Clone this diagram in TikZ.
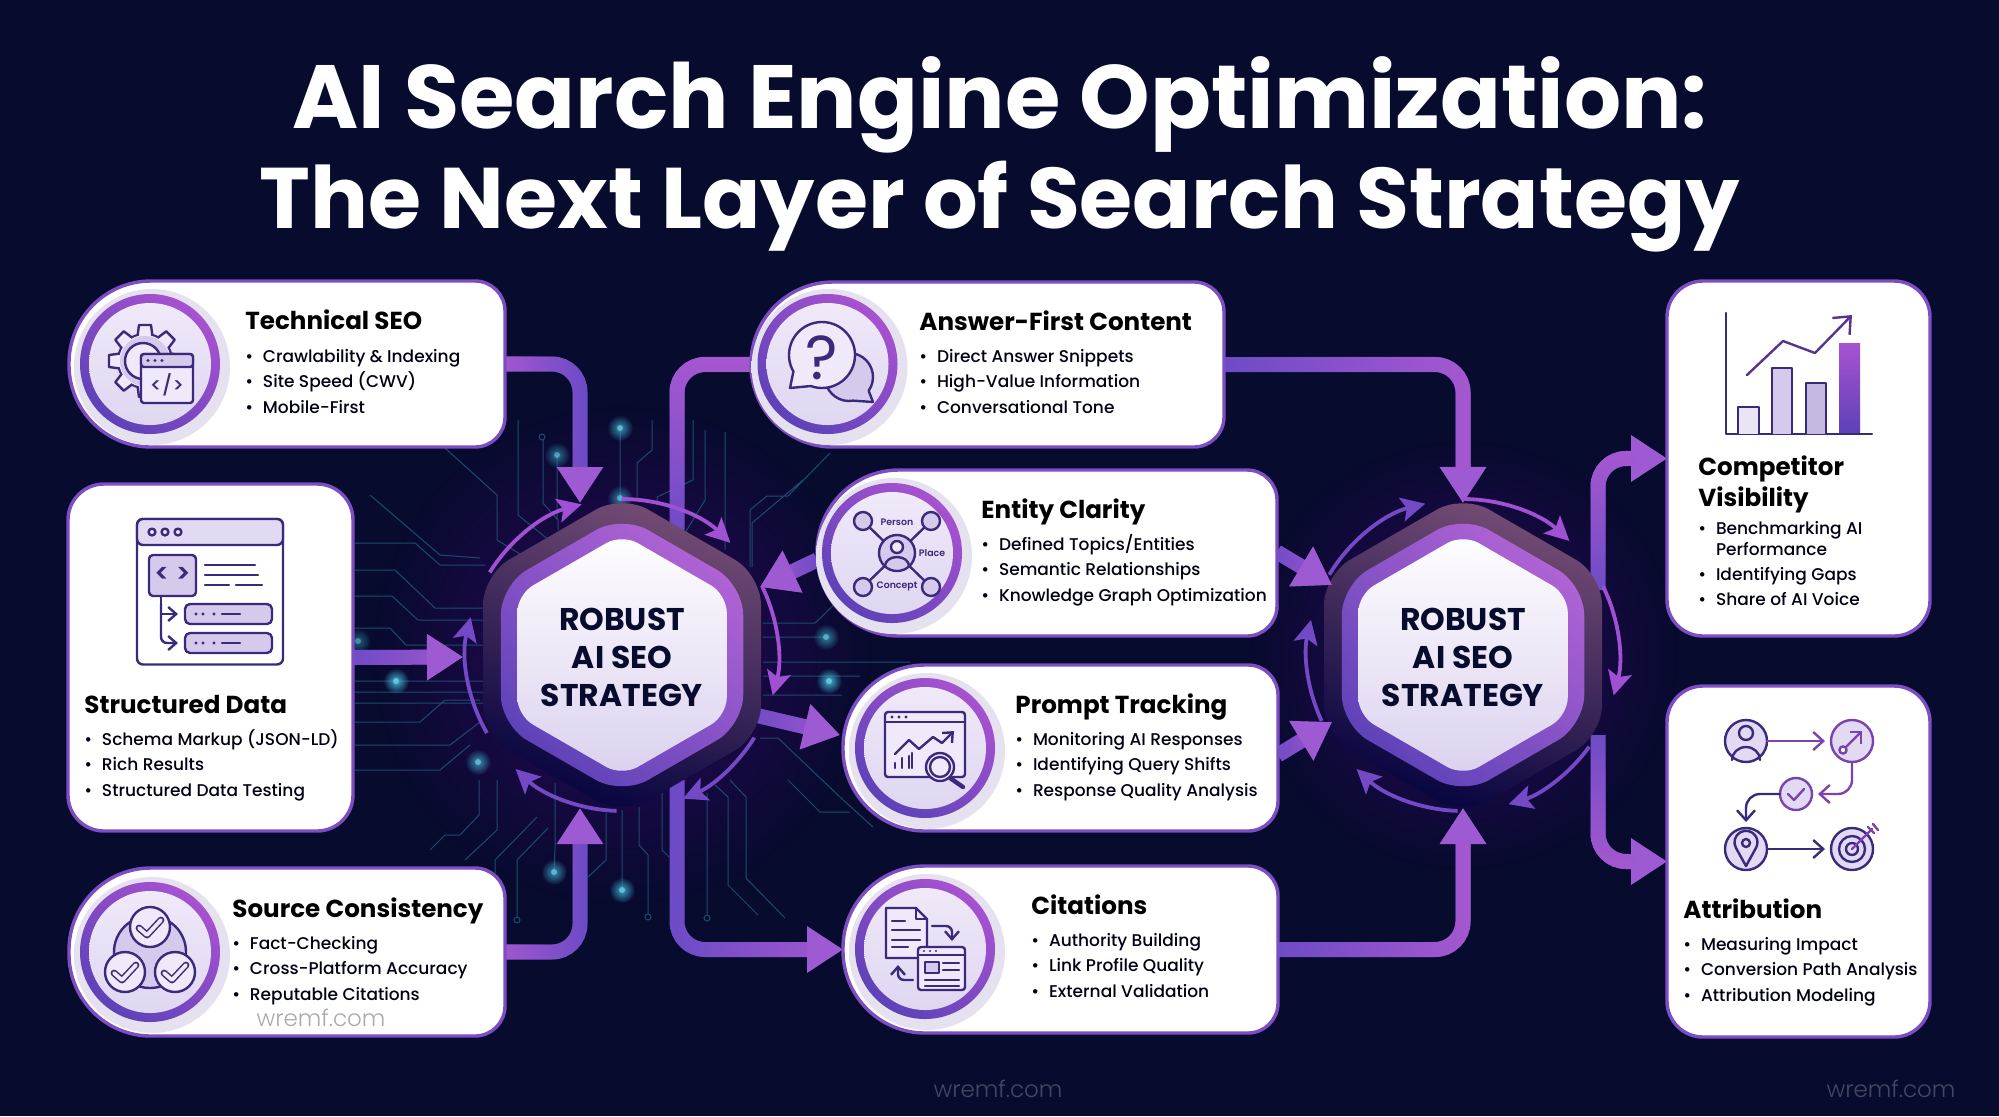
\documentclass[tikz,border=0pt]{standalone}
\usepackage{fontspec}
\setmainfont{Poppins}
\newfontfamily\medfont{Poppins Medium}
\newfontfamily\semifont{Poppins SemiBold}
\newfontfamily\boldfont{Poppins Bold}
\newfontfamily\markfont{Poppins Light}
\usetikzlibrary{arrows.meta,shapes.geometric,fadings}

\definecolor{pagebg}{HTML}{070B2E}
\definecolor{flowline}{HTML}{6C4BC6}
\definecolor{flowbright}{HTML}{A658D0}
\definecolor{flowtip}{HTML}{9E5AD2}
\definecolor{orbitpink}{HTML}{A050D2}
\definecolor{orbitblue}{HTML}{7449C6}
\definecolor{cardedge}{HTML}{7D4DC4}
\definecolor{iconink}{HTML}{3A2A7C}
\definecolor{iconsoft}{HTML}{D5C9EC}
\definecolor{iconpale}{HTML}{EFE9F9}
\definecolor{tracecol}{HTML}{1F4A70}
\definecolor{sparkcol}{HTML}{3FB4D2}
\definecolor{ringtop}{HTML}{A852D0}
\definecolor{ringlow}{HTML}{5D42B8}
\definecolor{shadowcol}{HTML}{E6E1EE}

\pgfdeclareradialshading{discshadow}{\pgfpointorigin}{color(0bp)=(shadowcol); color(43bp)=(shadowcol); color(50bp)=(white)}
\tikzfading[name=softdisc,inner color=transparent!0,outer color=transparent!100]
\tikzfading[name=growright,left color=transparent!100,right color=transparent!0]
\tikzfading[name=growleft,left color=transparent!0,right color=transparent!100]
\tikzfading[name=growup,bottom color=transparent!100,top color=transparent!0]
\tikzfading[name=growdown,bottom color=transparent!0,top color=transparent!100]

\tikzset{
  cardspot/.style={rectangle,inner sep=0pt,outer sep=0pt},
  cardline/.style={draw=cardedge,line width=1.7pt,fill=white},
  flow/.style={draw=flowline,line width=7.5pt,rounded corners=14pt},
  flowhead/.style={flow,-{Triangle[length=18pt,width=22pt,color=flowtip]}},
  toward/.style={postaction={draw=flowbright,path fading=#1}},
  orbit/.style={draw=#1,line width=1.9pt,-{Stealth[length=12pt,width=12pt,inset=2.5pt]}},
  trace/.style={draw=tracecol,line width=.5pt},
  hexbase/.style={regular polygon,regular polygon sides=6,shape border rotate=30,inner sep=0pt,outer sep=0pt},
  hexouter/.style={hexbase,minimum size=160.5pt,rounded corners=15pt,top color=#1,bottom color=#1!55!black!25!blue!30!black,shading angle=-20},
  hexmid/.style={hexbase,minimum size=140pt,rounded corners=15pt,top color=ringtop!90!white,bottom color=ringlow,shading angle=-40},
  hexinner/.style={hexbase,minimum size=121pt,rounded corners=9pt,top color=white!97!iconsoft,bottom color=iconsoft!85!white},
  hubtext/.style={font=\boldfont\fontsize{15.7}{19.2}\selectfont,align=center,text=pagebg,inner sep=0pt},
  ringdisc/.style={circle,inner sep=0pt,minimum size=70pt,top color=ringtop,bottom color=ringlow,shading angle=-40},
  coredisc/.style={circle,inner sep=0pt,minimum size=61pt,top color=iconpale,bottom color=iconsoft!75!white},
  cardtitle/.style={font=\boldfont\fontsize{12.3}{16}\selectfont,anchor=base west,inner sep=0pt,text=black},
  itemline/.style={font=\medfont\fontsize{8.5}{11}\selectfont,anchor=base west,inner sep=0pt,text=black!92!blue},
  iconline/.style={draw=iconink,line width=1.2pt,line join=round,line cap=round},
  iconlabel/.style={font=\semifont\fontsize{4.7}{5}\selectfont,text=iconink,inner sep=0pt},
  watermark/.style={font=\markfont\fontsize{11.5}{12}\selectfont,inner sep=0pt},
  headline/.style={font=\boldfont\fontsize{#1}{52}\selectfont,text=white,inner sep=0pt}
}

%Pill shaped card: round on the left, tight on the right
\newcommand{\pillshape}[1]{%
  \draw[cardline] ([xshift=41pt]#1.north west) -- ([xshift=-15pt]#1.north east)
    arc[start angle=90,end angle=0,radius=15pt] -- ([yshift=15pt]#1.south east)
    arc[start angle=0,end angle=-90,radius=15pt] -- ([xshift=41pt]#1.south west)
    arc[start angle=270,end angle=180,radius=41pt] -- ([yshift=-41pt]#1.north west)
    arc[start angle=180,end angle=90,radius=41pt] -- cycle;}
%Round badge of a card
\newcommand{\badge}[3]{%
  \shade[shading=discshadow] (#2+2,#3+3) circle[radius=78];
  \node[ringdisc] (#1) at (#2,#3) {};
  \node[coredisc] (#1core) at (#2,#3) {};}
%Bullets of a card
\newcommand{\itemrow}[5][25.6]{%
  \foreach \t [count=\i from 0] in {#5}
    \node[itemline] (#2-\i) at (#3,#4+\i*#1) {\makebox[8.8pt][l]{\textbullet}\t};}
%Outlined tick
\newcommand{\tick}[2]{%
  \draw[draw=iconink,line width=3.4pt,line cap=round,line join=round] (#1-11,#2+1) -- (#1-3,#2+8) -- (#1+11,#2-7);
  \draw[draw=iconpale,line width=1.9pt,line cap=round,line join=round] (#1-11,#2+1) -- (#1-3,#2+8) -- (#1+11,#2-7);}
%Glowing dot on the circuit
\newcommand{\spark}[3]{%
  \fill[sparkcol,path fading=softdisc,opacity=#3] (#1,#2) circle[radius=13];
  \fill[sparkcol!80!white,opacity=#3] (#1,#2) circle[radius=3];}

\begin{document}
\begin{tikzpicture}[x=0.5pt,y=-0.5pt]
\useasboundingbox (0,0) rectangle (1999,1116);
\fill[pagebg] (0,0) rectangle (1999,1116);

%Glow
\fill[violet!75!blue,path fading=softdisc,opacity=.42] (622,655) circle[radius=250];
\fill[violet!75!blue,path fading=softdisc,opacity=.42] (1463,655) circle[radius=215];

%Circuit
\draw[trace] (355,543) -- (415,543) -- (440,565) -- (485,565)
  (355,570) -- (395,570) -- (435,608) -- (485,608)
  (355,596) -- (392,596) -- (418,620) -- (485,620)
  (355,628) -- (390,628) -- (406,645) -- (485,645)
  (355,681) -- (485,681) (355,692) -- (485,692) (355,703) -- (485,703)
  (355,722) -- (420,722) -- (445,700) -- (480,700)
  (355,745) -- (450,745) -- (480,722)
  (355,770) -- (440,770) -- (470,745)
  (370,495) -- (440,555) -- (480,558)
  (445,448) -- (497,495) -- (497,540) -- (530,560)
  (518,420) -- (518,515) -- (555,545)
  (543,440) -- (543,503) -- (558,520) -- (558,530)
  (557,455) -- (557,520)
  (620,428) -- (620,498)
  (637,500) -- (637,463) -- (652,450) -- (652,420)
  (693,420) -- (693,480) -- (657,497) -- (657,505)
  (705,430) -- (705,500) -- (685,533)
  (725,432) -- (725,550)
  (830,453) -- (788,496) -- (767,496) -- (750,510) -- (750,567)
  (752,567) -- (752,523) -- (803,480)
  (763,623) -- (815,623) -- (860,580)
  (763,637) -- (830,637)
  (763,662) -- (910,662) (763,676) -- (860,676) (763,695) -- (842,695)
  (760,738) -- (778,738) -- (840,797) -- (873,827)
  (788,780) -- (820,812) -- (850,812)
  (479,780) -- (479,815) -- (460,835) -- (445,835) -- (430,850)
  (497,780) -- (497,830) -- (465,860)
  (548,828) -- (517,860) -- (517,917)
  (537,817) -- (495,860) -- (495,877)
  (555,783) -- (555,848) -- (554,872)
  (606,813) -- (606,860) -- (588,877)
  (622,810) -- (622,890)
  (639,807) -- (639,845) -- (648,855) -- (648,914)
  (662,793) -- (662,850) -- (669,857)
  (707,793) -- (707,915)
  (715,785) -- (728,797) -- (728,885) -- (758,915)
  (730,780) -- (746,797) -- (746,878) -- (785,918);
\foreach \x/\y in {542/437,648/917,707/918,517/920} \draw[trace] (\x,\y) circle[radius=3];

\spark{396}{681}{1}
\spark{358}{641}{.5}
\spark{478}{762}{.8}
\spark{557}{455}{.6}
\spark{620}{428}{.8}
\spark{620}{498}{.7}
\spark{826}{637}{.7}
\spark{829}{681}{1}
\spark{554}{872}{.8}
\spark{622}{890}{.9}

%Nodes of the cards
\node[cardspot,minimum width=218pt,minimum height=83pt] (tech) at (287,364) {};
\node[cardspot,minimum width=218pt,minimum height=84pt] (source) at (287,952) {};
\node[cardspot,minimum width=236.5pt,minimum height=82.5pt] (answer) at (987.5,364.5) {};
\node[cardspot,minimum width=230pt,minimum height=83pt] (entity) at (1047,553) {};
\node[cardspot,minimum width=217.5pt,minimum height=83pt] (prompt) at (1060.5,748) {};
\node[cardspot,minimum width=217.5pt,minimum height=83.5pt] (cite) at (1060.5,949.5) {};
\node[cardspot,minimum width=142.5pt,minimum height=173.5pt] (struct) at (210.5,657.5) {};
\node[cardspot,minimum width=131.5pt,minimum height=177.5pt] (compet) at (1798.5,458.5) {};
\node[cardspot,minimum width=131.5pt,minimum height=175.5pt] (attrib) at (1798.5,861.5) {};

%Ports on the hexagons
\coordinate (portAnw) at (580,503);
\coordinate (portAsw) at (580,808);
\coordinate (portAw) at (463,657);
\coordinate (portAe) at (760,587);
\coordinate (portAse) at (755,715);
\coordinate (portAtop) at (677,530);
\coordinate (portAlow) at (677,780);
\coordinate (portBn) at (1463,503);
\coordinate (portBs) at (1463,808);
\coordinate (portBne) at (1598,590);
\coordinate (portBse) at (1598,735);
\coordinate (portBw) at (1332,585);
\coordinate (portBl) at (1332,722);
\coordinate (entityL) at (817,560);
\coordinate (entityR) at (1277,552);
\coordinate (promptL) at (840,735);
\coordinate (promptR) at (1278,755);

%Lines running behind the hexagons
\draw[flow,toward=growup] (portAtop) |- (answer.west);
\draw[flowhead,toward=growright] (portAlow) |- (cite.west);
\draw[flowhead,toward=growup] (portBne) |- (compet.west);
\draw[flowhead,toward=growdown] (portBse) |- (attrib.west);
\draw[flowhead,toward=growright] (portAse) -- (promptL);

%Hexagons
\node[hexouter=black!55!violet!70!white] (hubA) at (622,655) {};
\node[hexmid] (hubAring) at (hubA) {};
\node[hexinner] (hubAcore) at (hubA) {};
\node[hubtext] (hubAtext) at ([yshift=-1.2pt]hubA.center) {ROBUST\\AI SEO\\STRATEGY};
\node[hexouter=black!55!violet!70!white] (hubB) at (1463,655) {};
\node[hexmid] (hubBring) at (hubB) {};
\node[hexinner] (hubBcore) at (hubB) {};
\node[hubtext] (hubBtext) at ([yshift=-1.2pt]hubB.center) {ROBUST\\AI SEO\\STRATEGY};

%Arrows into the hexagons
\draw[flowhead,toward=growleft] (tech.east) -| (portAnw);
\draw[flowhead,toward=growleft] (source.east) -| (portAsw);
\draw[flowhead,toward=growright] (struct.east) -- (portAw);
\draw[flowhead,toward=growleft] (entityL) -- (portAe);
\draw[flowhead,toward=growright] (answer.east) -| (portBn);
\draw[flowhead,toward=growright] (cite.east) -| (portBs);
\draw[flowhead,toward=growright] (entityR) -- (portBw);
\draw[flowhead,toward=growright] (promptR) -- (portBl);

%Orbits
\begin{scope}[shift={(hubA.center)}]
\foreach \s/\e/\c in {212/255/orbitpink,270/314/orbitpink,334/375/orbitpink,32/67/orbitblue,92/133/orbitblue,150/194/orbitblue}
  \draw[orbit=\c] (\s:156) arc[start angle=\s,end angle=\e,radius=156];
\end{scope}
\begin{scope}[shift={(hubB.center)}]
\foreach \s/\e/\c in {211/256/orbitblue,270/313/orbitpink,334/375/orbitpink,36/73/orbitblue,92/133/orbitblue,155/193/orbitblue}
  \draw[orbit=\c] (\s:156) arc[start angle=\s,end angle=\e,radius=156];
\end{scope}

%Cards
\pillshape{tech}
\pillshape{source}
\pillshape{answer}
\pillshape{entity}
\pillshape{prompt}
\pillshape{cite}
\draw[cardline,rounded corners=18pt] (struct.south west) rectangle (struct.north east);
\draw[cardline,rounded corners=18pt] (compet.south west) rectangle (compet.north east);
\draw[cardline,rounded corners=18pt] (attrib.south west) rectangle (attrib.north east);

\badge{techbadge}{150}{364}
\badge{sourcebadge}{150}{952}
\badge{answerbadge}{827.5}{364}
\badge{entitybadge}{892}{553}
\badge{promptbadge}{925}{748}
\badge{citebadge}{925}{949}

%Title
\node[headline=44.9] (titleA) at (1000,105) {AI Search Engine Optimization:};
\node[headline=43] (titleB) at (1000,207) {The Next Layer of Search Strategy};

%Texts of the cards
\node[cardtitle] (techtitle) at (245,329) {Technical SEO};
\itemrow{techitem}{245}{362}{Crawlability \& Indexing,Site Speed (CWV),Mobile-First}
\node[cardtitle] (structtitle) at (84,713) {Structured Data};
\itemrow{structitem}{84}{745}{Schema Markup (JSON-LD),Rich Results,Structured Data Testing}
\node[cardtitle] (sourcetitle) at (232,917) {Source Consistency};
\itemrow{sourceitem}{232}{949}{Fact-Checking,Cross-Platform Accuracy,Reputable Citations}
\node[watermark,text=black!33] (cardmark) at (321,1018) {wremf.com};
\node[cardtitle] (answertitle) at (919,330) {Answer-First Content};
\itemrow{answeritem}{919}{362}{Direct Answer Snippets,High-Value Information,Conversational Tone}
\node[cardtitle] (entitytitle) at (981,518) {Entity Clarity};
\itemrow{entityitem}{981}{550}{Defined Topics/Entities,Semantic Relationships,Knowledge Graph Optimization}
\node[cardtitle] (prompttitle) at (1015,713) {Prompt Tracking};
\itemrow{promptitem}{1015}{745}{Monitoring AI Responses,Identifying Query Shifts,Response Quality Analysis}
\node[cardtitle] (citetitle) at (1031,914) {Citations};
\itemrow{citeitem}{1031}{946}{Authority Building,Link Profile Quality,External Validation}
\node[cardtitle] (compettitleA) at (1698,475) {Competitor};
\node[cardtitle] (compettitleB) at (1698,506) {Visibility};
\node[itemline] (competitemA) at (1698,534) {\makebox[8.8pt][l]{\textbullet}Benchmarking AI};
\node[itemline] (competitemB) at (1715.6,555) {Performance};
\itemrow{competitem}{1698}{580}{Identifying Gaps,Share of AI Voice}
\node[cardtitle] (attribtitle) at (1683,918) {Attribution};
\itemrow{attribitem}{1683}{950}{Measuring Impact,Conversion Path Analysis,Attribution Modeling}

%Watermarks
\node[watermark,text=white!25!pagebg] (markA) at (998,1089) {wremf.com};
\node[watermark,text=white!25!pagebg] (markB) at (1891,1089) {wremf.com};

%Icon: gear and code window
\draw[iconline] (145,361) circle[radius=27];
\foreach \a in {0,45,...,315}
  \draw[iconline,fill=iconpale,rotate around={\a:(145,361)}] (137,340) -- (139,325) -- (151,325) -- (153,340);
\fill[iconpale] (145,361) circle[radius=26];
\fill[iconsoft] (145,361) circle[radius=25];
\draw[iconline,fill=iconpale] (143,361) circle[radius=18];
\draw[iconline,fill=iconpale,rounded corners=1.5pt] (141,354) rectangle (193,403);
\draw[iconline,fill=iconsoft,rounded corners=1.5pt] (141,354) rectangle (193,367);
\foreach \x in {148,155,162} \fill[iconink] (\x,360.5) circle[radius=1.6];
\node[font=\medfont\fontsize{10}{11}\selectfont,text=iconink,inner sep=0pt] (techcode) at (167,385) {</>};

%Icon: page with schema tree
\draw[iconline,fill=white,rounded corners=3pt] (137,519) rectangle (283,664.5);
\draw[iconline,fill=iconsoft!70!white,rounded corners=3pt] (137,519) rectangle (283,545);
\foreach \x in {152,165,178} \draw[iconline,fill=iconpale] (\x,532) circle[radius=3.4];
\draw[iconline,fill=iconsoft,rounded corners=2pt] (149,555) rectangle (196,596);
\node[font=\semifont\fontsize{13}{14}\selectfont,text=iconink,inner sep=0pt] (structcode) at (172.5,575) {< >};
\draw[iconline] (205,565) -- (255,565) (205,575) -- (258,575) (205,585) -- (229,585) (236,585) -- (262,585);
\draw[iconline,-{Straight Barb[length=4pt,width=7pt]}] (161,596) -- (161,604) |- (178,614);
\draw[iconline,rounded corners=3pt,-{Straight Barb[length=4pt,width=7pt]}] (161,604) |- (178,643);
\foreach \y in {604,633} {
  \draw[iconline,fill=iconsoft,rounded corners=2.5pt] (185,\y) rectangle (272,\y+20);
  \foreach \x in {196,203,214} \fill[iconink] (\x,\y+10) circle[radius=1.6];
  \draw[iconline] (222,\y+10) -- (240,\y+10);
}

%Icon: three ticks
\draw[iconline,fill=iconsoft] (150,952) circle[radius=36];
\foreach \x/\y in {150/927,125/972,175/972} {
  \draw[iconline,fill=iconpale] (\x,\y) circle[radius=20];
  \tick{\x}{\y}
}

%Icon: speech bubbles
\draw[iconline,fill=iconsoft] (849,377) ++(80:24) arc[start angle=80,end angle=395,radius=24] -- (873,402) -- cycle;
\draw[iconline,fill=iconpale] (822,355) ++(150:33) arc[start angle=150,end angle=470,radius=33] -- (790,388) -- cycle;
\node[font=\fontsize{31}{32}\selectfont,text=iconink,inner sep=0pt] (answermark) at (822,358) {?};

%Icon: entity graph
\draw[iconline] (863,521) -- (931,587) (931,521) -- (863,587);
\foreach \x/\y in {863/521,931/521,863/587,931/587} \draw[iconline,fill=iconsoft] (\x,\y) circle[radius=9];
\draw[iconline,fill=iconsoft] (897,553) circle[radius=18];
\draw[iconline,fill=iconpale] (897,547) circle[radius=6];
\draw[iconline] (885,566) arc[start angle=180,end angle=360,x radius=12,y radius=9];
\node[iconlabel] (entityperson) at (897,522) {Person};
\node[iconlabel] (entityplace) at (932,553) {Place};
\node[iconlabel] (entityconcept) at (897,586) {Concept};

%Icon: chart in a window with lens
\draw[iconline,fill=iconpale,rounded corners=1.5pt] (885,712) rectangle (965,777);
\draw[iconline] (885,722) -- (965,722);
\foreach \x in {892,899,906} \fill[iconink] (\x,717) circle[radius=1.6];
\draw[iconline,-{Straight Barb[length=4pt,width=7pt]}] (895,754) -- (909,740) -- (919,749) -- (933,737) -- (942,743) -- (954,731);
\draw[iconline] (895,768) -- (895,763) (902,768) -- (902,758) (909,768) -- (909,756) (912,768) -- (912,753);
\draw[iconline,line width=2.2pt] (950,778) -- (963,787);
\draw[iconline,fill=iconpale] (940,767) circle[radius=14];
\draw[iconline] (940,767) circle[radius=10];

%Icon: documents
\draw[iconline,fill=iconpale] (886,908) -- (916,908) -- (927,919) -- (927,958) -- (886,958) -- cycle;
\draw[iconline] (916,908) -- (916,919) -- (927,919);
\draw[iconline] (892,921) -- (905,921) (892,930) -- (920,930) (892,940) -- (920,940) (892,947) -- (908,947);
\draw[iconline,rounded corners=3pt,-{Straight Barb[length=4pt,width=7pt]}] (932,926) -- (952,926) -- (952,941);
\draw[iconline,rounded corners=3pt,-{Straight Barb[length=4pt,width=7pt]}] (913,980) -- (898,980) -- (898,965);
\draw[iconline,fill=iconpale,rounded corners=1.5pt] (918,947) rectangle (965,990);
\draw[iconline] (918,955) -- (965,955);
\foreach \x in {924,930,936} \fill[iconink] (\x,951) circle[radius=1.2];
\draw[iconline,fill=iconsoft] (925,962) rectangle (939,973);
\draw[iconline] (943,963) -- (959,963) (943,970) -- (959,970) (925,980) -- (959,980) (925,986) -- (959,986);

%Icon: bar chart
\draw[iconline] (1726,313) -- (1726,434) -- (1872,434);
\draw[iconline,fill=iconsoft!50!white] (1738,434) -- (1738,407) -- (1759,407) -- (1759,434);
\draw[iconline,fill=iconsoft] (1772,434) -- (1772,368) -- (1792,368) -- (1792,434);
\draw[iconline,fill=iconsoft!90!iconink] (1806,434) -- (1806,383) -- (1826,383) -- (1826,434);
\fill[top color=ringtop,bottom color=ringlow] (1839,343) rectangle (1860,432);
\draw[iconline,draw=iconink!75!ringtop,-{Straight Barb[length=7pt,width=12pt]}] (1747,375) -- (1783,341) -- (1815,353) -- (1852,315);

%Icon: attribution path
\draw[iconline,fill=iconsoft!70!white] (1746,741) circle[radius=21];
\draw[iconline] (1746,733) circle[radius=7];
\draw[iconline] (1732,760) arc[start angle=180,end angle=360,x radius=14,y radius=13];
\draw[iconline,draw=ringtop!60!iconink,fill=iconsoft!70!white] (1852,741) circle[radius=21];
\draw[iconline,draw=ringtop!60!iconink,-{Straight Barb[length=4pt,width=8pt]}] (1844,749) -- (1862,731);
\draw[iconline,draw=ringtop!60!iconink,fill=white] (1843,750) circle[radius=3.6];
\draw[iconline,draw=ringtop!60!iconink,fill=iconsoft!70!white] (1796,794) circle[radius=16];
\draw[iconline,draw=ringtop!60!iconink] (1788,794) -- (1794,800) -- (1804,789);
\draw[iconline,fill=iconsoft!70!white] (1746,849) circle[radius=21];
\draw[iconline] (1746,866) -- (1736,848) arc[start angle=150,end angle=390,radius=11.5] -- cycle;
\draw[iconline] (1746,843) circle[radius=4];
\draw[iconline,fill=iconsoft!70!white] (1852,849) circle[radius=21];
\draw[iconline] (1852,849) circle[radius=13];
\draw[iconline] (1852,849) circle[radius=6];
\draw[iconline,draw=ringtop!60!iconink] (1852,849) -- (1872,829) (1868,827) -- (1874,833) (1873,824) -- (1878,830);
\draw[iconline,draw=ringtop!60!iconink,-{Straight Barb[length=5pt,width=9pt]}] (1767,741) -- (1825,741);
\draw[iconline,draw=ringtop!60!iconink,rounded corners=7pt,-{Straight Barb[length=5pt,width=9pt]}] (1852,762) |- (1818,794);
\draw[iconline,rounded corners=7pt,-{Straight Barb[length=5pt,width=9pt]}] (1780,794) -| (1746,822);
\draw[iconline,-{Straight Barb[length=5pt,width=9pt]}] (1767,849) -- (1825,849);
\end{tikzpicture}
\end{document}
